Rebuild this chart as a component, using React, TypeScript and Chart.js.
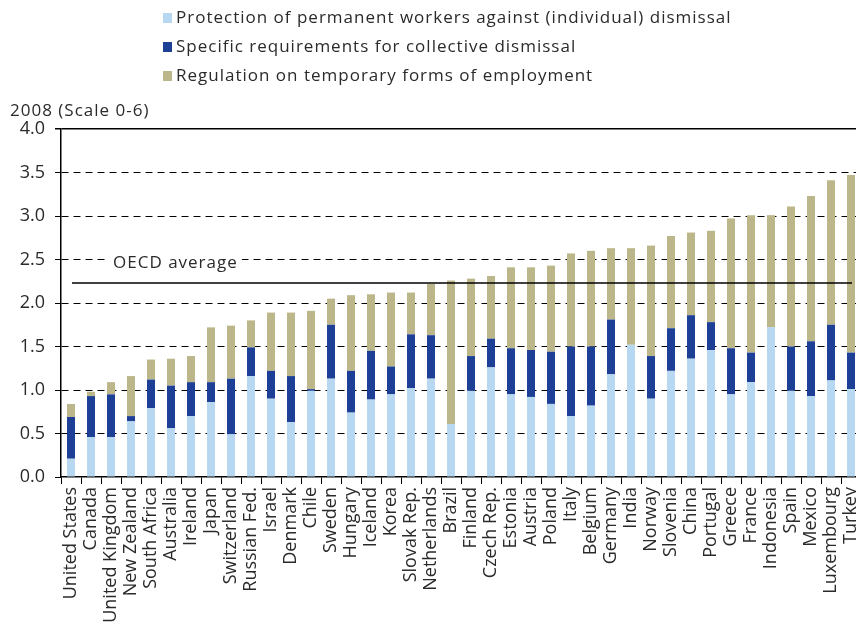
import React, { useEffect, useRef } from "react";
import { Chart, registerables } from "chart.js";

Chart.register(...registerables);

const countries = [
  "United States", "Canada", "United Kingdom", "New Zealand", "South Africa",
  "Australia", "Ireland", "Japan", "Switzerland", "Russian Fed.",
  "Israel", "Denmark", "Chile", "Sweden", "Hungary",
  "Iceland", "Korea", "Slovak Rep.", "Netherlands", "Brazil",
  "Finland", "Czech Rep.", "Estonia", "Austria", "Poland",
  "Italy", "Belgium", "Germany", "India", "Norway",
  "Slovenia", "China", "Portugal", "Greece", "France",
  "Indonesia", "Spain", "Mexico", "Luxembourg", "Turkey",
];

const permanent = [
  0.21, 0.46, 0.46, 0.64, 0.79, 0.56, 0.70, 0.86, 0.49, 1.16,
  0.90, 0.63, 0.99, 1.13, 0.74, 0.89, 0.95, 1.02, 1.13, 0.61,
  0.99, 1.26, 0.95, 0.92, 0.84, 0.70, 0.82, 1.18, 1.52, 0.90,
  1.22, 1.36, 1.46, 0.95, 1.09, 1.72, 0.99, 0.93, 1.11, 1.01,
];

const collective = [
  0.48, 0.47, 0.49, 0.06, 0.33, 0.49, 0.39, 0.23, 0.64, 0.33,
  0.32, 0.53, 0.02, 0.62, 0.48, 0.56, 0.32, 0.62, 0.50, 0.0,
  0.40, 0.33, 0.53, 0.54, 0.60, 0.80, 0.68, 0.63, 0.0, 0.49,
  0.49, 0.50, 0.32, 0.53, 0.34, 0.0, 0.51, 0.63, 0.64, 0.42,
];

const temporary = [
  0.15, 0.05, 0.14, 0.46, 0.23, 0.31, 0.30, 0.63, 0.61, 0.31,
  0.67, 0.73, 0.90, 0.30, 0.87, 0.65, 0.85, 0.48, 0.59, 1.65,
  0.89, 0.72, 0.93, 0.95, 0.99, 1.07, 1.10, 0.82, 1.11, 1.27,
  1.06, 0.95, 1.05, 1.49, 1.58, 1.29, 1.61, 1.67, 1.66, 2.04,
];

const seriesLabels = [
  "Protection of permanent workers against (individual) dismissal",
  "Specific requirements for collective dismissal",
  "Regulation on temporary forms of employment",
];

const seriesColors = ["#b8d7f0", "#1d3f95", "#bcb78a"];

const oecdAverage = 2.23;
const averageLabel = "OECD average";
const unitLabel = "2008 (Scale 0-6)";
const yMin = 0;
const yMax = 4;
const yStep = 0.5;

const FONT = "'Open Sans', 'DejaVu Sans', sans-serif";
const TEXT = "#2a2a2a";

const decorPlugin = {
  id: "decor",
  afterDatasetsDraw(chart: any) {
    const { ctx, chartArea, scales } = chart;
    const y = scales.y.getPixelForValue(oecdAverage);
    ctx.save();
    ctx.strokeStyle = "#000";
    ctx.lineWidth = 1.5;
    ctx.setLineDash([]);
    ctx.beginPath();
    ctx.moveTo(chartArea.left + 11, y);
    ctx.lineTo(chartArea.right - 9, y);
    ctx.stroke();

    ctx.font = `17px ${FONT}`;
    (ctx as any).letterSpacing = "1px";
    const tw = ctx.measureText(averageLabel).width;
    const tx = chartArea.left + 52;
    const ty = y - 20;
    ctx.fillStyle = "#fff";
    ctx.fillRect(tx - 4, ty - 9, tw + 8, 18);
    ctx.fillStyle = TEXT;
    ctx.textBaseline = "middle";
    ctx.textAlign = "left";
    ctx.fillText(averageLabel, tx, ty);
    ctx.restore();
  },
  afterDraw(chart: any) {
    const { ctx } = chart;
    ctx.save();
    ctx.font = `17px ${FONT}`;
    (ctx as any).letterSpacing = "1px";
    ctx.textBaseline = "middle";
    ctx.textAlign = "left";
    chart.data.datasets.forEach((ds: any, i: number) => {
      const rowY = 18 + i * 29;
      ctx.fillStyle = ds.backgroundColor;
      ctx.fillRect(163, rowY - 5, 9, 10);
      ctx.fillStyle = TEXT;
      ctx.fillText(ds.label, 176, rowY);
    });
    ctx.fillText(unitLabel, 10, 111);
    ctx.restore();
  },
};

export default function App() {
  const ref = useRef<HTMLCanvasElement | null>(null);

  useEffect(() => {
    if (!ref.current) return;
    const chart = new Chart(ref.current, {
      type: "bar",
      data: {
        labels: countries,
        datasets: [permanent, collective, temporary].map((values, i) => ({
          label: seriesLabels[i],
          data: values,
          backgroundColor: seriesColors[i],
          borderWidth: 0,
          barPercentage: 0.4,
          categoryPercentage: 1,
        })),
      },
      options: {
        responsive: false,
        animation: false,
        devicePixelRatio: 1,
        layout: { padding: { left: 0, top: 129, right: 19, bottom: 0 } },
        plugins: {
          legend: { display: false },
          tooltip: { enabled: false },
        },
        scales: {
          x: {
            stacked: true,
            offset: true,
            afterFit: (scale: any) => {
              scale.height = 156;
            },
            grid: {
              offset: true,
              drawOnChartArea: false,
              drawTicks: true,
              tickLength: 7,
              tickColor: "#000",
              tickWidth: 1,
            },
            border: { display: true, color: "#000", width: 1.5 },
            ticks: {
              autoSkip: false,
              minRotation: 90,
              maxRotation: 90,
              padding: 3,
              color: TEXT,
              font: { family: FONT, size: 18 },
            },
          },
          y: {
            stacked: true,
            min: yMin,
            max: yMax,
            afterFit: (scale: any) => {
              scale.width = 61;
            },
            grid: {
              color: (c: any) => (c.tick && c.tick.value === 0 ? "rgba(0,0,0,0)" : "#000"),
              lineWidth: (c: any) => (c.tick && c.tick.value === yMax ? 1.5 : 1),
              drawTicks: true,
              tickLength: 6,
              tickColor: "#000",
            },
            border: {
              display: true,
              color: "#000",
              width: 1.5,
              dash: (c: any) => (c.tick && c.tick.value === yMax ? [] : [7, 5]),
            },
            ticks: {
              stepSize: yStep,
              padding: 10,
              color: TEXT,
              font: { family: FONT, size: 18 },
              callback: (v: any) => Number(v).toFixed(1),
            },
          },
        },
      },
      plugins: [decorPlugin],
    });
    return () => chart.destroy();
  }, []);

  return (
    <div
      style={{
        position: "fixed",
        left: 0,
        top: 0,
        width: 856,
        height: 633,
        overflow: "hidden",
        background: "#fff",
      }}
    >
      <canvas ref={ref} width={880} height={633} style={{ display: "block" }} />
    </div>
  );
}
